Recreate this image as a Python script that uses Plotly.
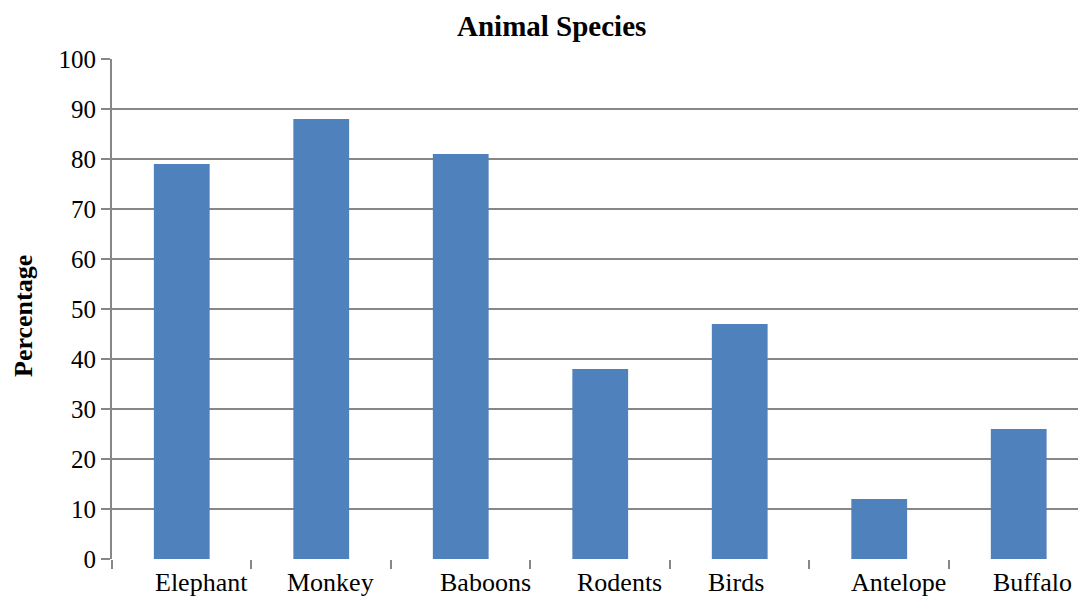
import plotly.graph_objects as go

# Chart data
animals = ["Elephant", "Monkey", "Baboons", "Rodents", "Birds", "Antelope", "Buffalo"]
percentages = [79, 88, 81, 38, 47, 12, 26]
y_ticks = [0, 10, 20, 30, 40, 50, 60, 70, 80, 90, 100]

# Horizontal nudges (in category units) for the category captions
caption_shift = [0.145, 0.065, 0.18, 0.135, -0.03, 0.135, 0.10]

BAR_COLOR = "#4f81bd"
GRID_COLOR = "#878787"
FONT = "Liberation Serif"

fig = go.Figure()
fig.add_trace(go.Bar(
    x=animals,
    y=percentages,
    width=0.4,
    marker=dict(color=BAR_COLOR, line=dict(width=0)),
    showlegend=False,
))

fig.update_layout(
    width=1078,
    height=597,
    margin=dict(l=112, r=0, t=59, b=38),
    paper_bgcolor="white",
    plot_bgcolor="white",
    font=dict(family=FONT, color="black"),
    bargap=0.6,
)

fig.update_xaxes(
    type="category",
    range=[-0.5, 6.425],
    showticklabels=False,
    ticks="outside",
    tickson="boundaries",
    ticklen=9,
    tickwidth=2,
    tickcolor=GRID_COLOR,
    showgrid=False,
    showline=False,
    zeroline=False,
)

fig.update_yaxes(
    range=[0, 100],
    tickvals=y_ticks,
    ticktext=[str(v) for v in y_ticks],
    ticks="outside",
    ticklen=9,
    tickwidth=2,
    tickcolor=GRID_COLOR,
    tickfont=dict(family=FONT, size=25, color="black"),
    showgrid=True,
    gridcolor=GRID_COLOR,
    gridwidth=2,
    showline=True,
    linecolor=GRID_COLOR,
    linewidth=2,
    zeroline=False,
)

annotations = []
for i, (name, shift) in enumerate(zip(animals, caption_shift)):
    annotations.append(dict(
        x=i + shift, xref="x",
        y=-0.013, yref="paper",
        yanchor="top", xanchor="center",
        text=name, showarrow=False,
        font=dict(family=FONT, size=26, color="black"),
    ))

# Chart title
annotations.append(dict(
    x=0.4545, xref="paper", y=1.066, yref="paper",
    xanchor="center", yanchor="middle",
    text="<b>Animal Species</b>", showarrow=False,
    font=dict(family=FONT, size=29, color="black"),
))

# Vertical axis title, placed 23 px from the left edge
annotations.append(dict(
    x=(23 - 112) / 966, xref="paper", y=0.486, yref="paper",
    xanchor="center", yanchor="middle",
    text="<b>Percentage</b>", showarrow=False, textangle=-90,
    font=dict(family=FONT, size=26, color="black"),
))

fig.update_layout(annotations=annotations)

fig.write_html("out.html")
